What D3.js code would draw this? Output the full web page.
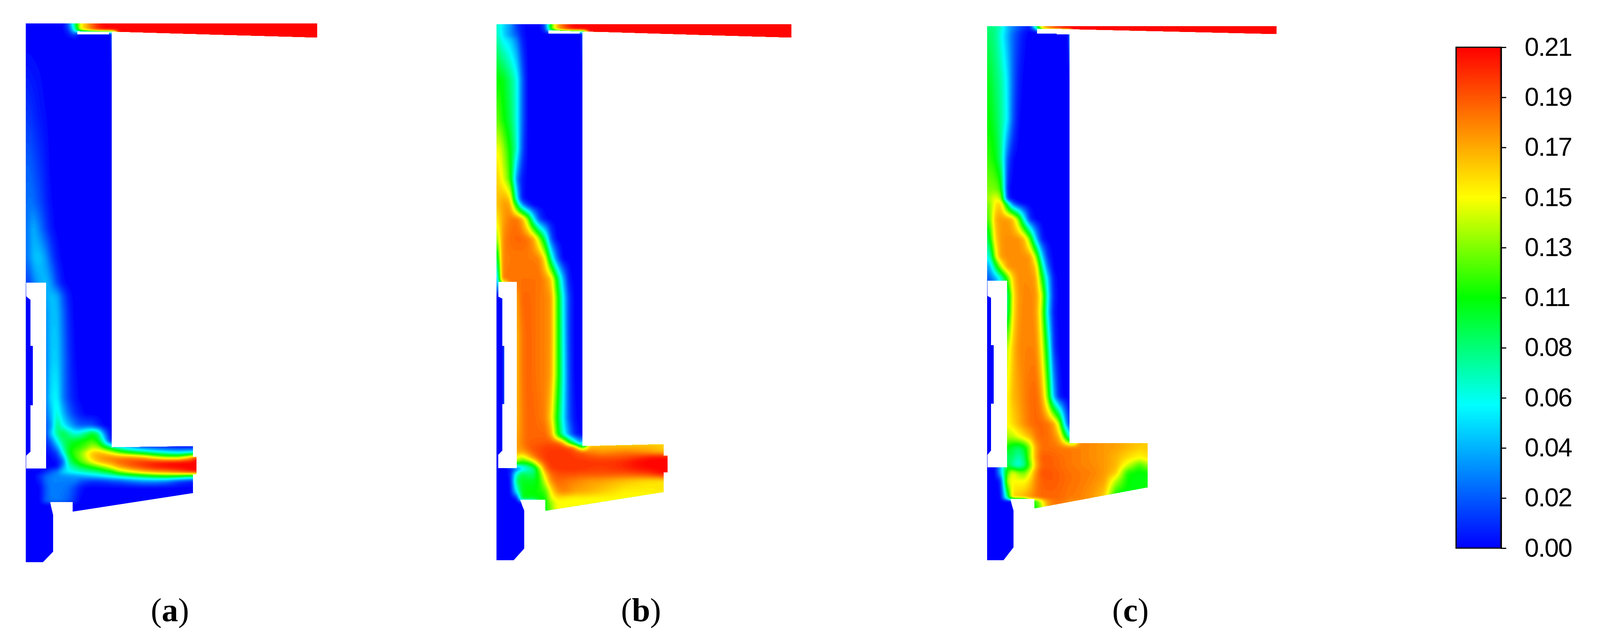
<!DOCTYPE html>
<html>
<head>
<meta charset="utf-8">
<script src="https://cdn.jsdelivr.net/npm/d3@7"></script>
<style>
body { margin: 0; background: #fff; }
text { font-family: "Liberation Sans", Arial, sans-serif; }
</style>
</head>
<body>
<svg id="chart" width="4113" height="1647"></svg>
<script>
// colour bar
var tickValues = [0, 0.021, 0.042, 0.063, 0.084, 0.105, 0.126, 0.147, 0.168, 0.189, 0.21];
var tickLabels = ['0.00', '0.02', '0.04', '0.06', '0.08', '0.11', '0.13', '0.15', '0.17', '0.19', '0.21'];
var colorStops = [0, 60, 105, 147, 210]; // in 1e-3
var colorNames = ['#0000ff', '#00ffff', '#00ff00', '#ffff00', '#ff0000'];

// field values are in 1e-3, one list per row, trailing cells repeat the last value
var fieldCols = [0, 12, 20, 35, 52, 65, 80, 95, 110, 125, 140, 155, 170, 185, 200, 212, 220, 240, 270, 300, 330, 360, 390, 420, 440, 760];

var rowsA = [0, 20, 22, 28, 40, 120, 240, 360, 460, 526, 600, 664, 700, 740, 860, 960, 1000, 1030, 1050, 1070, 1086, 1100, 1112, 1124, 1136, 1148, 1160, 1172, 1190, 1225, 1232, 1380];
var fieldA = [
  [0,0,0,0,0,0,0,0,25,85,147,165,185,200,208,210],
  [0,0,0,0,0,0,0,0,10,60,147,165,185,200,208,210],
  [0,0,0,0,0,0,0,0,8,40,0,0,0,0,0,0,0,210],
  [0,0,0,0,0,0,0,0,5,15,0,0,0,0,0,0,0,210],
  [0,0,0,0,0,0,0,0,0,0,0,0,0,0,0,0,0,210],
  [5,4,3,2,0],
  [14,12,9,5,2,0],
  [22,22,18,12,5,0],
  [25,28,25,18,8,2,0],
  [25,35,42,30,14,5,0],
  [25,35,45,48,35,18,5,0],
  [15,18,30,40,45,35,15,3,0],
  [0,0,0,30,40,46,42,20,5,0],
  [0,0,0,35,35,45,45,25,8,0],
  [0,0,0,30,30,48,50,30,12,2,0],
  [0,0,0,30,30,55,60,30,14,5,0],
  [0,0,0,20,25,45,70,45,25,12,5,0],
  [0,0,0,15,20,35,85,60,45,30,20,20,18,8,0],
  [0,0,0,15,15,50,80,95,80,65,70,85,100,85,35,10,0],
  [0,0,0,10,10,25,60,85,95,100,105,110,115,105,65,20,5],
  [0,0,0,5,5,12,35,75,100,108,112,120,135,130,110,95,85,65,40,22,15,8,5,3,3],
  [0,0,0,2,2,5,15,60,100,115,125,145,160,165,160,150,145,125,108,95,80,70,62,70,70],
  [0,0,0,0,0,2,8,35,90,110,125,140,160,170,175,178,178,178,178,170,150,135,135,165,210],
  [0,0,0,0,0,0,2,20,80,100,115,130,145,160,168,172,175,185,192,198,203,207,209,210,210],
  [0,0,0,0,0,0,2,35,65,80,92,100,108,118,130,142,150,170,185,195,203,207,209,210,210],
  [0,0,0,0,10,20,30,50,60,65,70,75,80,85,95,100,105,130,150,165,175,180,190,205,210],
  [0,0,0,10,25,30,32,33,33,35,38,42,46,50,55,60,62,70,80,90,100,105,100,85,85],
  [0,0,0,5,25,30,30,30,30,30,20,15,12,12,14,15,18,20,28,35,35,30,15,8,5],
  [0,0,0,0,20,30,30,28,25,15,5,0],
  [0,0,0,0,22,28,28,26,20,10,0],
  [0],
  [0]
];
var outlineA = [[0,0],[746,0],[746,36],[214,20.5],[132,20],[132,28],[213,28],[213,23],[220,24],[220,1086],[428,1083],[428,1110],[437,1110],[437,1155],[428,1155],[428,1203],[120,1250.5],[120,1226],[62,1226],[70,1259],[70,1353],[44,1380],[0,1380]];
var holeA = [[1,664],[1,699],[12,708],[12,826],[18,826],[18,978],[12,978],[12,1097],[1,1107],[1,1140],[52,1140],[52,664]];

var rowsB = [0, 17, 19, 28, 40, 142, 244, 320, 397, 448, 463, 499, 550, 601, 652, 700, 800, 900, 1008, 1051, 1073, 1084, 1095, 1110, 1122, 1138, 1151, 1170, 1197, 1216, 1225, 1250, 1375];
var fieldB = [
  [72,60,50,38,12,3,0,0,0,22,115,165,185,200,208,210],
  [72,60,48,35,15,5,0,0,0,10,115,165,185,200,208,210],
  [73,60,49,35,18,5,0,0,0,5,0,0,0,0,0,0,0,210],
  [75,60,50,35,20,5,0,0,0,0,0,0,0,0,0,0,0,210],
  [80,65,58,50,30,8,0,0,0,0,0,0,0,0,0,0,0,210],
  [105,105,100,85,65,25,0],
  [125,112,105,92,65,25,0],
  [147,140,125,105,70,20,0],
  [160,150,140,115,30,5,0],
  [160,165,168,160,60,5,0],
  [158,168,172,170,100,40,10,0],
  [147,165,172,180,182,170,130,60,15,2,0],
  [120,165,178,183,185,185,182,170,132,85,18,0],
  [60,170,178,180,180,180,180,180,178,150,78,25,0],
  [5,170,180,182,182,182,182,182,182,175,160,100,45,5,0],
  [0,0,0,170,170,185,185,183,180,178,172,118,62,15,0],
  [0,0,0,165,165,180,186,183,180,178,172,120,65,15,0],
  [0,0,0,165,165,180,186,183,180,178,170,120,68,18,0],
  [0,0,0,165,165,178,185,185,182,178,155,105,60,20,3,0],
  [0,0,0,168,168,178,185,185,185,185,170,115,70,35,8,2,0],
  [0,0,0,170,170,178,186,187,188,189,190,188,172,120,80,45,45,160],
  [0,0,0,170,170,175,185,190,192,195,195,195,195,190,178,135,110,165,165,165,165,165,165,160,155,155],
  [0,0,0,165,168,170,178,188,192,196,197,197,197,196,192,188,185,178,172,175,178,175,170,165,160,160],
  [0,0,0,150,150,135,155,176,190,196,198,198,198,198,196,195,195,192,190,190,192,198,205,208,210,210],
  [0,0,0,125,125,110,112,135,173,192,198,198,198,198,198,198,198,197,197,198,202,208,210,210,210,210],
  [0,0,0,0,20,45,65,80,128,180,195,197,198,198,198,198,198,196,195,197,200,205,208,210,210,210],
  [0,0,0,5,70,92,85,85,115,160,185,190,192,192,192,190,190,190,190,190,190,192,196,205,210,210],
  [0,0,0,0,90,100,100,100,108,142,175,185,183,180,178,176,175,172,170,166,162,158,155,154,154,154],
  [0,0,0,0,60,100,105,105,108,115,150,172,178,175,170,168,168,165,160,155,150,150,150,152,152,152],
  [0,0,0,0,0,100,102,102,103,105,142,150,150,148,147],
  [0,0,0,0,0,0,0,0,100,105,130,147],
  [0,0,0,0,0,0,0,0,100,105,125,147],
  [0]
];
var outlineB = [[0,0],[755,0],[755,34],[216,18],[133,15],[133,24.5],[213,24.5],[213,20],[220,20],[220,1081],[428,1076],[428,1105],[438,1105],[438,1147.5],[428,1147.5],[428,1198],[125.6,1246],[125.6,1218],[60,1218],[71,1246],[71,1343],[44,1373],[0,1373]];
var holeB = [[4.5,660],[4.5,698],[15,703],[15,824],[20,824],[20,973],[15,973],[15,1092],[4.5,1103],[4.5,1137],[52,1137],[52,660]];

var rowsC = [0, 7, 10, 12, 25, 137, 239, 341, 418, 443, 454, 494, 545, 591, 617, 645, 690, 733, 825, 949, 1019, 1052, 1079, 1106, 1125, 1144, 1165, 1203, 1211, 1212, 1219, 1240, 1368];
var fieldC = [
  [85,82,80,70,45,32,20,12,3,110,160,178,190,200,208,210],
  [85,82,80,70,45,32,20,12,5,40,150,178,190,200,208,210],
  [86,84,82,68,45,30,18,8,3,20,160,178,190,200,208,210],
  [87,85,83,67,45,28,15,5,0,0,0,0,0,0,0,0,210],
  [88,85,82,65,42,25,12,3,0,0,0,0,0,0,0,0,210],
  [102,95,88,78,55,25,6,0],
  [105,102,95,80,58,22,2,0],
  [115,110,105,85,20,2,0],
  [125,125,125,115,5,0],
  [130,138,147,138,12,0],
  [120,135,150,160,85,25,3,0],
  [110,135,165,172,172,165,128,60,8,0],
  [80,120,155,173,175,175,175,165,122,48,5,0],
  [55,85,135,172,175,175,175,175,174,135,55,10,0],
  [30,55,85,135,172,175,175,175,173,160,85,25,0],
  [20,30,40,65,115,158,175,176,175,170,110,50,5,0],
  [0,0,0,75,75,148,172,177,177,174,142,62,8,0],
  [0,0,0,80,80,150,172,178,178,173,135,55,5,0],
  [0,0,0,135,135,160,175,178,178,178,150,90,12,0],
  [0,0,0,147,147,163,170,178,183,185,172,125,45,5,0],
  [0,0,0,147,147,155,165,175,182,185,185,182,172,135,45,10,10],
  [0,0,0,130,132,135,145,155,165,180,185,183,178,165,110,60,60,178,176,172,170,165,160,160,160,160],
  [0,0,0,105,105,95,88,100,130,170,182,182,182,180,180,180,180,178,175,172,170,165,160,160,160,160],
  [0,0,0,60,90,87,72,85,132,170,188,188,186,184,182,180,180,178,175,172,165,155,147,155,155,155],
  [0,0,0,45,100,75,62,80,120,165,185,186,186,184,182,180,180,178,176,172,165,140,115,135,135,135],
  [0,0,0,45,115,147,130,122,145,175,190,190,188,186,184,182,182,180,178,172,160,108,103,108,108,108],
  [0,0,0,5,140,147,147,146,158,178,186,188,188,186,184,182,182,180,176,170,135,105,102,102,102,102],
  [0,0,0,0,85,157,160,165,172,180,185,185,185,184,182,180,180,178,172,160,102,102,102,102,102,102],
  [0,0,0,0,85,157,160,165,172,180,185,185,185,184,182,180,180,178,172,160,102,102,102,102,102,102],
  [0,0,0,0,0,0,0,0,105,110,145,172,180,182,178,175],
  [0,0,0,0,0,0,0,0,105,110,145,172,180,182,178,175],
  [0,0,0,0,0,0,0,0,105,105,130,165,178,178],
  [0]
];
var outlineC = [[0,0],[741,0],[741,20],[190,7],[127.5,7],[127.5,19],[178,19],[178,21],[211,21],[211,1068],[411,1068],[411,1181],[121,1235],[121,1211],[59,1211],[67.6,1241],[67.6,1335],[42,1368],[0,1368]];
var holeC = [[1,652],[1,691],[10,696],[10,817],[16.6,817],[16.6,967],[10,967],[10,1087],[1,1098],[1,1130],[51,1130],[51,652]];

var captions = ['a', 'b', 'c'];

var svg = d3.select('#chart');
var color = d3.scaleLinear().domain(colorStops).range(colorNames).clamp(true);
var levels = d3.range(2, 210, 2);
var cell = 3;

function drawPanel(id, left, top, rows, field, outline, hole) {
    var x = d3.scaleLinear().domain([0, 1]).range([left, left + 1]);
    var y = d3.scaleLinear().domain([0, 1]).range([top, top + 1]);
    var colIndex = d3.scaleLinear().domain(fieldCols).range(d3.range(fieldCols.length)).clamp(true);
    var rowIndex = d3.scaleLinear().domain(rows).range(d3.range(rows.length)).clamp(true);

    // pad the short rows
    var table = field.map(function(r){
        return fieldCols.map(function(c, i){
            return i < r.length ? r[i] : r[r.length - 1];
        });
    });

    var w = d3.max(outline, function(p){ return p[0]; });
    var h = d3.max(outline, function(p){ return p[1]; });
    var nx = Math.ceil(w / cell) + 1;
    var ny = Math.ceil(h / cell) + 1;
    var values = new Float64Array(nx * ny);
    for (var j = 0; j < ny; j++) {
        var fy = rowIndex((j + 0.5) * cell);
        var r0 = Math.min(Math.floor(fy), rows.length - 2);
        var ty = fy - r0;
        for (var i = 0; i < nx; i++) {
            var fx = colIndex((i + 0.5) * cell);
            var c0 = Math.min(Math.floor(fx), fieldCols.length - 2);
            var tx = fx - c0;
            var a = table[r0][c0] * (1 - tx) + table[r0][c0 + 1] * tx;
            var b = table[r0 + 1][c0] * (1 - tx) + table[r0 + 1][c0 + 1] * tx;
            values[j * nx + i] = a * (1 - ty) + b * ty;
        }
    }
    // soften the kinks between rows
    if (d3.blur2) d3.blur2({data: values, width: nx}, 1);

    var line = d3.line().x(function(d){ return x(d[0]); }).y(function(d){ return y(d[1]); });
    svg.append('clipPath')
        .attr('id', 'clip-' + id)
        .append('path')
        .attr('clip-rule', 'evenodd')
        .attr('d', line(outline) + 'Z' + line(hole) + 'Z');

    var g = svg.append('g').attr('clip-path', 'url(#clip-' + id + ')');
    g.append('rect')
        .attr('x', x(0)).attr('y', y(0))
        .attr('width', x(w) - x(0)).attr('height', y(h) - y(0))
        .attr('fill', color(0));

    var contours = d3.contours().size([nx, ny]).thresholds(levels)(values);
    var path = d3.geoPath(d3.geoTransform({
        point: function(px, py) {
            this.stream.point(x(px * cell), y(py * cell));
        }
    }));
    g.selectAll('path')
        .data(contours)
        .enter()
        .append('path')
        .attr('d', path)
        .attr('fill', function(d){ return color(d.value + 1); });
}

drawPanel('a', 66, 60, rowsA, fieldA, outlineA, holeA);
drawPanel('b', 1271, 62, rowsB, fieldB, outlineB, holeB);
drawPanel('c', 2527, 67, rowsC, fieldC, outlineC, holeC);

// captions
var captionX = [435, 1641, 2894];
captions.forEach(function(c, i){
    var t = svg.append('text')
        .attr('x', captionX[i])
        .attr('y', 1591)
        .attr('text-anchor', 'middle')
        .attr('font-size', 84)
        .style('font-family', '"Liberation Serif", serif');
    t.append('tspan').text('(');
    t.append('tspan').attr('font-weight', 'bold').text(c);
    t.append('tspan').text(')');
});

// colour bar
var barLeft = 3727.5, barRight = 3843;
var barScale = d3.scaleLinear().domain([0, 0.21]).range([1404, 121]);
var grad = svg.append('defs').append('linearGradient')
    .attr('id', 'bar-gradient')
    .attr('x1', 0).attr('x2', 0).attr('y1', 1).attr('y2', 0);
grad.selectAll('stop')
    .data(colorStops)
    .enter()
    .append('stop')
    .attr('offset', function(d){ return d / 210; })
    .attr('stop-color', function(d){ return color(d); });

svg.append('rect')
    .attr('x', barLeft).attr('y', barScale(0.21))
    .attr('width', barRight - barLeft).attr('height', barScale(0) - barScale(0.21))
    .attr('fill', 'url(#bar-gradient)')
    .attr('stroke', '#000')
    .attr('stroke-width', 3);
svg.append('rect')
    .attr('x', barRight - 4).attr('y', barScale(0.21))
    .attr('width', 4).attr('height', barScale(0) - barScale(0.21))
    .attr('fill', '#000').attr('opacity', 0.3);

var axis = d3.axisRight(barScale)
    .tickValues(tickValues)
    .tickFormat(function(d, i){ return tickLabels[i]; })
    .tickSize(13)
    .tickPadding(47);
var axisG = svg.append('g')
    .attr('transform', 'translate(' + barRight + ',0)')
    .call(axis);
axisG.selectAll('line').attr('stroke', '#000').attr('stroke-width', 3);
axisG.select('.domain').attr('stroke', '#000').attr('stroke-width', 3);
axisG.selectAll('text')
    .attr('font-size', 66)
    .attr('letter-spacing', -2)
    .style('font-family', '"Liberation Sans", Arial, sans-serif')
    .attr('fill', '#000');
</script>
</body>
</html>
